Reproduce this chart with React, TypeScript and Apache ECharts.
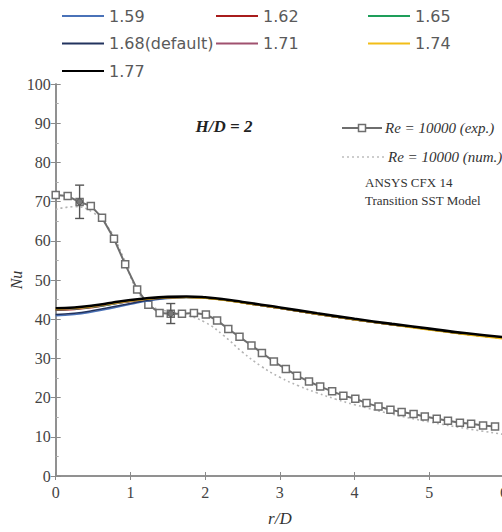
import React, { useEffect, useRef } from "react";
import * as echarts from "echarts";

// experimental data (Re = 10000, exp.)
const expX = [0, 0.16, 0.32, 0.47, 0.62, 0.78, 0.93, 1.09, 1.24, 1.39, 1.54, 1.69, 1.85, 2.01, 2.16, 2.31, 2.46, 2.62, 2.76, 2.92, 3.08, 3.23, 3.39, 3.54, 3.70, 3.85, 4.01, 4.16, 4.32, 4.48, 4.63, 4.79, 4.94, 5.10, 5.25, 5.41, 5.56, 5.72, 5.88];
const expY = [71.7, 71.4, 69.9, 68.9, 65.9, 60.5, 54.0, 47.6, 43.7, 41.6, 41.4, 41.4, 41.6, 41.2, 39.7, 37.5, 35.5, 33.3, 31.4, 29.2, 27.3, 25.6, 24.1, 22.8, 21.6, 20.5, 19.7, 18.6, 17.7, 16.9, 16.3, 15.8, 15.2, 14.6, 14.1, 13.6, 13.3, 12.9, 12.6];
// error bars: x, low, high
const errX = [0.32, 1.54];
const errLow = [65.7, 38.9];
const errHigh = [74.2, 44.0];

// numerical (dotted)
const numX = [0, 0.25, 0.5, 0.7, 0.9, 1.1, 1.3, 1.5, 1.75, 2.0, 2.25, 2.5, 2.75, 3.0, 3.25, 3.5, 3.75, 4.0, 4.5, 5.0, 5.5, 6.0];
const numY = [68.0, 68.7, 67.2, 63.5, 56.0, 47.0, 43.2, 42.0, 41.0, 39.2, 35.8, 31.6, 28.0, 25.2, 23.0, 21.2, 19.6, 18.2, 15.8, 13.8, 12.1, 10.6];

// overlaid model curves
const curveX = [0, 0.25, 0.5, 0.75, 1.0, 1.25, 1.5, 1.75, 2.0, 2.25, 2.5, 2.75, 3.0, 3.5, 4.0, 4.5, 5.0, 5.5, 6.0];
const nu159 = [40.9, 41.2, 41.9, 42.8, 43.8, 44.7, 45.3, 45.5, 45.4, 44.9, 44.2, 43.5, 42.8, 41.3, 39.9, 38.6, 37.4, 36.2, 35.2];
const nu162 = [42.3, 42.5, 43.0, 43.8, 44.5, 45.1, 45.5, 45.6, 45.4, 44.9, 44.2, 43.5, 42.8, 41.3, 39.9, 38.6, 37.4, 36.2, 35.2];
const nu165 = [42.4, 42.6, 43.1, 43.8, 44.6, 45.2, 45.5, 45.6, 45.4, 44.9, 44.2, 43.5, 42.8, 41.3, 39.9, 38.6, 37.4, 36.2, 35.2];
const nu168 = [41.2, 41.5, 42.2, 43.1, 44.0, 44.9, 45.4, 45.6, 45.4, 44.9, 44.2, 43.5, 42.8, 41.3, 39.9, 38.6, 37.4, 36.2, 35.2];
const nu171 = [42.5, 42.7, 43.2, 43.9, 44.6, 45.2, 45.5, 45.6, 45.4, 44.9, 44.2, 43.5, 42.8, 41.3, 39.9, 38.6, 37.4, 36.2, 35.2];
const nu174 = [42.6, 42.8, 43.3, 44.0, 44.7, 45.2, 45.5, 45.6, 45.4, 44.9, 44.2, 43.5, 42.8, 41.3, 39.9, 38.6, 37.3, 36.1, 35.0];
const nu177 = [42.8, 43.0, 43.5, 44.2, 44.9, 45.4, 45.7, 45.8, 45.6, 45.1, 44.4, 43.7, 43.0, 41.5, 40.1, 38.8, 37.6, 36.4, 35.4];

const curveNames = ["1.59", "1.62", "1.65", "1.68(default)", "1.71", "1.74", "1.77"];
const curveData = [nu159, nu162, nu165, nu168, nu171, nu174, nu177];
const curveColors = ["#4a72b8", "#a81c1c", "#1e9e5a", "#22335e", "#a0516f", "#f2bd18", "#000000"];
const curveWidths = [1.6, 1.6, 1.6, 1.6, 1.6, 1.8, 2.6];

const xTicks = [0, 6, 1];
const yTicks = [0, 100, 10];

const serif = "'Liberation Serif', 'DejaVu Serif', serif";
const axisGray = "#8a8a8a";

export default function App() {
  const ref = useRef<HTMLDivElement>(null);
  useEffect(() => {
    if (!ref.current) return;
    const chart = echarts.init(ref.current, null, { renderer: "svg" });

    const curveSeries = curveNames.map((name, i) => ({
      name,
      type: "line",
      smooth: true,
      symbol: "none",
      data: curveX.map((x, j) => [x, curveData[i][j]]),
      lineStyle: { color: curveColors[i], width: curveWidths[i] },
      itemStyle: { color: curveColors[i] },
      z: 5 + i,
    }));

    const legendCommon = {
      orient: "vertical",
      icon: "rect",
      itemWidth: 42,
      itemHeight: 2,
      itemGap: 11.5,
      selectedMode: false,
      textStyle: { fontFamily: "'DejaVu Sans', sans-serif", fontSize: 16, color: "#5a5a5a", lineHeight: 16 },
    };

    chart.setOption({
      animation: false,
      backgroundColor: "#ffffff",
      legend: [
        { ...legendCommon, left: 57, top: 3, data: ["1.59", "1.68(default)", "1.77"] },
        { ...legendCommon, left: 211, top: 3, data: ["1.62", "1.71"] },
        { ...legendCommon, left: 363, top: 3, data: ["1.65", "1.74"] },
      ],
      grid: { left: 55.7, right: 16, top: 84, bottom: 56, containLabel: false, outerBoundsMode: "none" },
      xAxis: [
        {
          type: "value",
          min: xTicks[0],
          max: xTicks[1],
          interval: xTicks[2],
          position: "bottom",
          name: "r/D",
          nameLocation: "middle",
          nameGap: 34,
          nameMoveOverlap: false,
          nameTextStyle: { fontFamily: serif, fontStyle: "italic", fontSize: 17, color: "#333" },
          axisLine: { show: true, lineStyle: { color: axisGray, width: 1.5 } },
          axisTick: { show: true, inside: true, length: 4, lineStyle: { color: axisGray } },
          axisLabel: { fontFamily: serif, fontSize: 16, color: "#444", margin: 8 },
          splitLine: { show: false },
        },
        {
          type: "value",
          min: xTicks[0],
          max: xTicks[1],
          interval: xTicks[2],
          position: "top",
          axisLine: { show: true, lineStyle: { color: axisGray, width: 1.5 } },
          axisTick: { show: true, inside: true, length: 4, lineStyle: { color: axisGray } },
          axisLabel: { show: false },
          splitLine: { show: false },
        },
      ],
      yAxis: [
        {
          type: "value",
          min: yTicks[0],
          max: yTicks[1],
          interval: yTicks[2],
          position: "left",
          name: "Nu",
          nameLocation: "middle",
          nameGap: 31,
          nameMoveOverlap: false,
          nameRotate: 90,
          nameTextStyle: { fontFamily: serif, fontStyle: "italic", fontSize: 16, color: "#333" },
          axisLine: { show: true, lineStyle: { color: axisGray, width: 1.5 } },
          axisTick: { show: true, inside: true, length: 5, lineStyle: { color: axisGray } },
          minorTick: { show: true, splitNumber: 2, length: 3, lineStyle: { color: "#aaa" } },
          axisLabel: { fontFamily: serif, fontSize: 16, color: "#444", margin: 5 },
          splitLine: { show: false },
          minorSplitLine: { show: false },
        },
        {
          type: "value",
          min: yTicks[0],
          max: yTicks[1],
          interval: yTicks[2],
          position: "right",
          axisLine: { show: true, lineStyle: { color: axisGray, width: 1.5 } },
          axisTick: { show: true, inside: true, length: 5, lineStyle: { color: axisGray } },
          axisLabel: { show: false },
          splitLine: { show: false },
        },
      ],
      series: [
        {
          name: "num",
          type: "line",
          symbol: "none",
          smooth: true,
          data: numX.map((x, i) => [x, numY[i]]),
          lineStyle: { color: "#b4b4b4", width: 1.6, type: [2, 3] },
          z: 2,
        },
        {
          name: "exp",
          type: "line",
          symbol: "rect",
          symbolSize: 7,
          showAllSymbol: true,
          data: expX.map((x, i) => [x, expY[i]]),
          lineStyle: { color: "#6e6e6e", width: 2 },
          itemStyle: { color: "#ffffff", borderColor: "#6e6e6e", borderWidth: 1.5 },
          z: 3,
        },
        {
          name: "err",
          type: "custom",
          data: errX.map((x, i) => [x, errLow[i], errHigh[i]]),
          renderItem: (params: any, api: any) => {
            const x = api.value(0);
            const lo = api.coord([x, api.value(1)]);
            const hi = api.coord([x, api.value(2)]);
            const mid = api.coord([x, (api.value(1) + api.value(2)) / 2]);
            const cw = 4.5;
            const st = { stroke: "#555", lineWidth: 1.4 };
            return {
              type: "group",
              children: [
                { type: "line", shape: { x1: lo[0], y1: lo[1], x2: hi[0], y2: hi[1] }, style: st },
                { type: "line", shape: { x1: lo[0] - cw, y1: lo[1], x2: lo[0] + cw, y2: lo[1] }, style: st },
                { type: "line", shape: { x1: hi[0] - cw, y1: hi[1], x2: hi[0] + cw, y2: hi[1] }, style: st },
                { type: "circle", shape: { cx: mid[0], cy: mid[1], r: 3 }, style: { fill: "#777", stroke: "#555" } },
              ],
            };
          },
          z: 4,
        },
        ...curveSeries,
      ],
      graphic: [
        {
          type: "text",
          x: 224,
          y: 126,
          style: { text: "H/D = 2", font: `italic bold 17px ${serif}`, fill: "#222", textAlign: "center", textVerticalAlign: "middle" },
        },
        { type: "line", shape: { x1: 342, y1: 128, x2: 382, y2: 128 }, style: { stroke: "#6e6e6e", lineWidth: 2 } },
        { type: "rect", shape: { x: 358.5, y: 124.5, width: 7, height: 7 }, style: { fill: "#fff", stroke: "#6e6e6e", lineWidth: 1.5 } },
        {
          type: "text",
          x: 385,
          y: 128,
          style: { text: "Re = 10000 (exp.)", font: `italic 15px ${serif}`, fill: "#333", textAlign: "left", textVerticalAlign: "middle" },
        },
        { type: "line", shape: { x1: 342, y1: 157, x2: 384, y2: 157 }, style: { stroke: "#bdbdbd", lineWidth: 1.5, lineDash: [2, 3] } },
        {
          type: "text",
          x: 388,
          y: 157,
          style: { text: "Re = 10000 (num.)", font: `italic 15px ${serif}`, fill: "#333", textAlign: "left", textVerticalAlign: "middle" },
        },
        {
          type: "text",
          x: 365,
          y: 182,
          style: { text: "ANSYS CFX 14", font: `13px ${serif}`, fill: "#333", textAlign: "left", textVerticalAlign: "middle" },
        },
        {
          type: "text",
          x: 365,
          y: 200,
          style: { text: "Transition SST Model", font: `13px ${serif}`, fill: "#333", textAlign: "left", textVerticalAlign: "middle" },
        },
      ],
    });
    return () => chart.dispose();
  }, []);

  return (
    <div style={{ position: "fixed", left: 0, top: 0, width: 502, height: 532, overflow: "hidden", background: "#fff" }}>
      <div ref={ref} style={{ width: 520, height: 532 }} />
    </div>
  );
}
